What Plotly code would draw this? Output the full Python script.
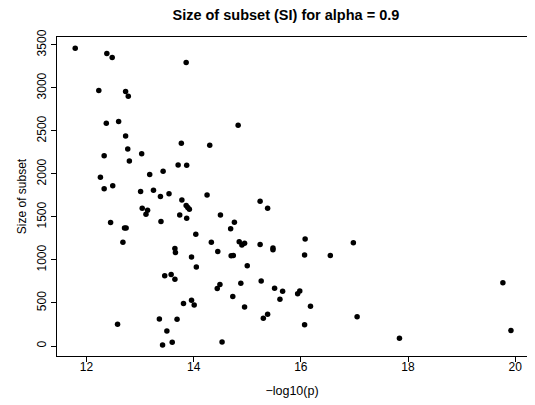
import plotly.graph_objects as go

neg_log10_p = [
    11.79, 12.38, 12.48, 13.86, 12.23, 12.73, 12.78, 12.37, 12.60, 13.77,
    14.30, 12.73, 12.77, 12.33, 13.03, 12.80, 13.18, 13.43, 13.71, 13.87,
    12.26, 14.83, 15.24, 15.38, 14.50, 14.76, 14.69, 14.33, 14.45, 14.85,
    14.90, 14.95, 15.24, 15.48, 15.48, 16.08, 16.07, 16.55, 16.98, 14.70,
    14.74, 15.00, 14.49, 14.44, 14.88, 15.26, 14.73, 15.51, 15.66, 15.61,
    15.94, 15.98, 14.95, 16.18, 15.38, 15.30, 16.07, 17.05, 14.53, 19.77,
    19.92, 17.84, 12.33, 12.49, 13.01, 13.25, 13.38, 13.54, 13.78, 14.25,
    13.86, 13.89, 13.92, 13.04, 13.14, 13.11, 13.74, 13.87, 12.45, 13.39,
    12.71, 12.74, 12.68, 14.04, 13.65, 13.66, 13.96, 14.05, 13.46, 13.58,
    13.65, 13.81, 13.96, 14.01, 12.58, 13.36, 13.69, 13.50, 13.42, 13.60,
]
subset_size = [
    3460, 3400, 3352, 3296, 2970, 2958, 2902, 2589, 2608, 2357,
    2334, 2441, 2290, 2211, 2234, 2151, 1992, 2032, 2103, 2100,
    1960, 2565, 1682, 1602, 1522, 1439, 1364, 1205, 1098, 1212,
    1173, 1193, 1181, 1140, 1120, 1244, 1057, 1053, 1200, 1050,
    1053, 934, 716, 668, 728, 755, 576, 672, 636, 544,
    608, 639, 453, 461, 370, 322, 246, 341, 48, 735,
    179, 91, 1829, 1861, 1797, 1809, 1737, 1769, 1698, 1754,
    1634, 1611, 1590, 1602, 1578, 1531, 1522, 1486, 1435, 1447,
    1372, 1372, 1205, 1300, 1133, 1086, 1033, 919, 818, 830,
    775, 493, 532, 477, 254, 314, 310, 174, 12, 43,
]
x_ticks = [12, 14, 16, 18, 20]
y_ticks = [0, 500, 1000, 1500, 2000, 2500, 3000, 3500]

FONT = "Liberation Sans, Arial, Helvetica, sans-serif"

# the page body adds an 8px offset, so the figure is 8px smaller on each axis
W, H = 527, 397

fig = go.Figure(
    go.Scatter(
        x=neg_log10_p,
        y=subset_size,
        mode="markers",
        marker=dict(color="black", size=5.5),
        hoverinfo="x+y",
    )
)

fig.update_layout(
    width=W,
    height=H,
    margin=dict(l=49, r=8, t=29, b=49),
    paper_bgcolor="white",
    plot_bgcolor="white",
    showlegend=False,
    font=dict(family=FONT, size=12, color="black"),
    title=dict(
        text="<b>Size of subset (SI) for alpha = 0.9</b>",
        x=0.487,
        xref="paper",
        xanchor="center",
        y=1 - 7 / H,
        yref="container",
        yanchor="middle",
        font=dict(family=FONT, size=14.5, color="black"),
    ),
    xaxis=dict(
        range=[11.45, 20.22],
        tickvals=x_ticks,
        ticktext=[str(v) for v in x_ticks],
        ticks="outside",
        ticklen=5,
        ticklabelstandoff=-5,
        tickcolor="black",
        showline=True,
        linecolor="black",
        linewidth=1,
        mirror=True,
        showgrid=False,
        zeroline=False,
        automargin=False,
        title=dict(text="\u2212log10(p)", standoff=12, font=dict(size=12.5)),
    ),
    yaxis=dict(
        range=[-116, 3591],
        tickvals=y_ticks,
        ticktext=[str(v) for v in y_ticks],
        tickangle=-90,
        ticks="outside",
        ticklen=5,
        tickcolor="black",
        showline=True,
        linecolor="black",
        linewidth=1,
        mirror=True,
        showgrid=False,
        zeroline=False,
        automargin=False,
        title=dict(text="Size of subset", standoff=6, font=dict(size=12)),
    ),
)

fig.write_html("out.html")
